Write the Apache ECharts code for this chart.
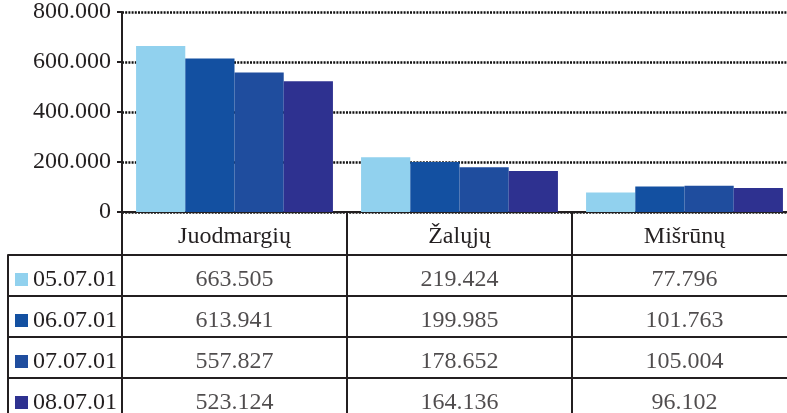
<!DOCTYPE html>
<html>
<head>
<meta charset="utf-8">
<script src="https://cdn.jsdelivr.net/npm/echarts@6/dist/echarts.min.js"></script>
<style>
  html, body { margin: 0; padding: 0; background: #fff; }
  #chart { width: 787px; height: 413px; }
</style>
</head>
<body>
<div id="chart"></div>
<script>
const categories = ['Juodmargių', 'Žalųjų', 'Mišrūnų']
const dates = ['05.07.01', '06.07.01', '07.07.01', '08.07.01']
const v050701 = [663.505, 219.424, 77.796]
const v060701 = [613.941, 199.985, 101.763]
const v070701 = [557.827, 178.652, 105.004]
const v080701 = [523.124, 164.136, 96.102]
const yTicks = [0, 200, 400, 600, 800]

const values = [v050701, v060701, v070701, v080701]
const colors = ['#91d1ee', '#1350a1', '#1f4d9e', '#2e3190']
const ink = '#231f20'
const font = "'Liberation Serif', 'DejaVu Serif', serif"

const chart = echarts.init(document.getElementById('chart'))

// table cells: [column, row, value]
const cells = []
values.forEach((arr, r) => arr.forEach((v, c) => cells.push([c, r, v])))

const rich = { t: { fontSize: 24, fontFamily: font, color: ink, padding: [0, 0, 0, 5] } }
colors.forEach((c, i) => { rich['s' + i] = { width: 13, height: 13, backgroundColor: c } })

chart.setOption({
  animation: false,
  textStyle: { fontFamily: font, color: ink },
  grid: [
    { left: 122, top: 12, width: 675, height: 200, outerBoundsMode: 'none', containLabel: false },
    { left: 122, top: 255, width: 675, height: 164, outerBoundsMode: 'none', containLabel: false }
  ],
  xAxis: [
    {
      gridIndex: 0, type: 'category', data: categories,
      axisLine: { lineStyle: { color: ink, width: 2 } },
      axisTick: { show: true, length: 43, interval: 0, lineStyle: { color: ink, width: 2 } },
      axisLabel: { fontSize: 24, fontFamily: font, color: ink, margin: 13, interval: 0 }
    },
    {
      gridIndex: 1, type: 'category', data: categories, position: 'top',
      axisLine: { lineStyle: { color: ink, width: 2 } },
      axisTick: { show: false },
      axisLabel: { show: false },
      splitLine: { show: true, interval: 0, lineStyle: { color: ink, width: 2 } }
    }
  ],
  yAxis: [
    {
      gridIndex: 0, type: 'value', min: yTicks[0], max: yTicks[yTicks.length - 1], interval: 200,
      axisLine: { show: true, lineStyle: { color: ink, width: 2 } },
      axisTick: { show: true, length: 5, lineStyle: { color: ink, width: 2 } },
      axisLabel: {
        fontSize: 24, fontFamily: font, color: ink, margin: 11,
        formatter: v => v === 0 ? '0' : v.toFixed(3)
      },
      splitLine: { show: true, lineStyle: { color: '#111', width: 2.5, type: [2, 1.2] } }
    },
    {
      gridIndex: 1, type: 'category', data: dates, inverse: true,
      axisLine: { show: true, lineStyle: { color: ink, width: 2 } },
      axisTick: { show: true, length: 114, interval: 0, lineStyle: { color: ink, width: 2 } },
      axisLabel: {
        margin: 5, interval: 0, padding: [8, 0, 0, 0],
        formatter: (val, i) => `{s${i}|}{t|${val}}`,
        rich
      },
      splitLine: { show: true, interval: 0, lineStyle: { color: ink, width: 2 } }
    },
    {
      // left border of the legend column
      gridIndex: 1, type: 'category', data: dates, position: 'left', offset: 114,
      axisLine: { show: true, lineStyle: { color: ink, width: 2 } },
      axisTick: { show: false }, axisLabel: { show: false }, splitLine: { show: false }
    }
  ],
  series: [
    ...values.map((arr, i) => ({
      type: 'bar', name: dates[i], xAxisIndex: 0, yAxisIndex: 0,
      data: arr, barGap: 0, barCategoryGap: '12.5%',
      itemStyle: { color: colors[i] }
    })),
    {
      type: 'scatter', xAxisIndex: 1, yAxisIndex: 1, data: cells,
      symbolSize: 1, itemStyle: { color: 'transparent' },
      label: {
        show: true, position: 'inside', offset: [0, 4],
        fontSize: 24, fontFamily: font, color: ink,
        formatter: p => p.value[2].toFixed(3)
      }
    }
  ]
})
</script>
</body>
</html>
